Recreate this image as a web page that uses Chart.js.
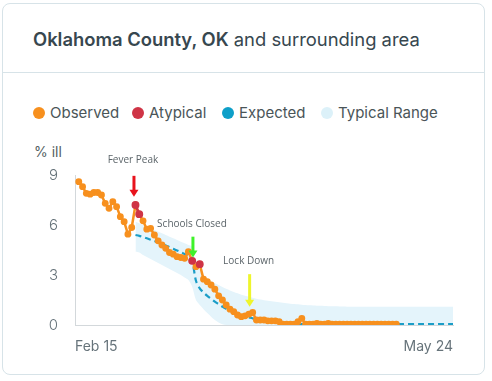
<!DOCTYPE html>
<html><head><meta charset="utf-8">
<script src="https://cdn.jsdelivr.net/npm/chart.js@4/dist/chart.umd.min.js"></script>
<style>
html,body{margin:0;padding:0;background:#fff;width:492px;height:381px;overflow:hidden;font-family:Inter,"Open Sans",sans-serif;}
.card{position:absolute;left:2px;top:3px;width:483px;height:372px;border:1px solid #d7e3e8;border-radius:8px;box-sizing:border-box;}
.sep{position:absolute;left:3px;top:72px;width:482px;height:1px;background:#d7e3e8;}
.title{position:absolute;left:33px;top:28px;font-size:18.4px;color:#37474f;white-space:nowrap;letter-spacing:0px;}
.title b{font-weight:600;}
.legend{position:absolute;top:103px;left:33px;font-size:15px;color:#4a5558;white-space:nowrap;}
.legend span.item{position:absolute;top:0;white-space:nowrap;}
.legend i{display:inline-block;width:12px;height:12px;border-radius:50%;vertical-align:-1px;margin-right:5px;}
.ylab{position:absolute;left:34px;top:143px;font-size:14px;color:#555f63;}
canvas{position:absolute;left:0;top:130px;}
</style></head>
<body>
<div class="card"></div>
<div class="sep"></div>
<div class="title"><b>Oklahoma County, OK</b> and surrounding area</div>
<div class="legend">
  <span class="item" style="left:0px"><i style="background:#f7901e"></i>Observed</span>
  <span class="item" style="left:99px"><i style="background:#cf3446"></i>Atypical</span>
  <span class="item" style="left:189px"><i style="background:#0e9fc8"></i>Expected</span>
  <span class="item" style="left:288px"><i style="background:#dcf1f9"></i>Typical Range</span>
</div>
<div class="ylab">% ill</div>
<canvas id="c" width="492" height="240"></canvas>
<script>
// Day index 0 = Feb 15, 99 = May 24
const xTickLabels = ['Feb 15', 'May 24'];
const xTickDays = [-1, 99];
const yTicks = [0, 3, 6, 9];

const observed = [
  8.6, 8.3, 7.9, 7.85, 7.95, 7.95, 7.8, 7.3, 7.0, 7.4,
  7.1, 6.5, 6.2, 5.45, 5.85, 7.2, 6.65, 6.25, 5.75, 5.8,
  5.4, 5.05, 4.8, 4.6, 4.35, 4.25, 4.1, 4.05, 4.0, 4.4,
  3.85, 3.5, 3.65, 2.75, 2.6, 2.4, 2.15, 1.75, 1.5, 1.2,
  0.95, 0.8, 0.6, 0.5, 0.55, 0.65, 0.75, 0.3, 0.3, 0.3,
  0.25, 0.25, 0.25, 0.2, 0.05, 0.05, 0.05, 0.05, 0.2, 0.4,
  0.05, 0.05, 0.05, 0.1, 0.05, 0.05, 0.1, 0.05, 0.05, 0.05,
  0.05, 0.05, 0.05, 0.05, 0.05, 0.05, 0.05, 0.05, 0.05, 0.05,
  0.05, 0.05, 0.05, 0.05, 0.05
];
const atypicalDays = [15, 16, 30, 32];

const expectedStart = 15;
const expected = [
  5.4, 5.35, 5.28, 5.2, 5.12, 5.04, 4.96, 4.87, 4.77, 4.67,
  4.57, 4.47, 4.37, 4.26, 4.14, 3.85, 2.65, 2.2, 1.95, 1.75,
  1.58, 1.4, 1.25, 1.1, 0.97, 0.86, 0.76, 0.66, 0.57, 0.5,
  0.45, 0.4, 0.36, 0.33, 0.3, 0.28, 0.27, 0.26, 0.25, 0.15,
  0.07, 0.05, 0.05, 0.05, 0.05, 0.05, 0.05, 0.05, 0.05, 0.05,
  0.05, 0.05, 0.05, 0.05, 0.05, 0.05, 0.05, 0.05, 0.05, 0.05,
  0.05, 0.05, 0.05, 0.05, 0.05, 0.05, 0.05, 0.05, 0.05, 0.05,
  0.05, 0.05, 0.05, 0.05, 0.05, 0.05, 0.05, 0.05, 0.05, 0.05,
  0.05, 0.05, 0.05, 0.05, 0.05
];
const rangeUpper = [
  6.2, 6.1, 6.0, 5.9, 5.8, 5.7, 5.6, 5.5, 5.4, 5.3,
  5.2, 5.1, 5.0, 4.9, 4.8, 4.7, 3.6, 3.3, 3.0, 2.8,
  2.65, 2.5, 2.4, 2.28, 2.17, 2.07, 1.98, 1.9, 1.82, 1.75,
  1.69, 1.63, 1.58, 1.53, 1.49, 1.45, 1.42, 1.39, 1.36, 1.33,
  1.3, 1.28, 1.26, 1.24, 1.22, 1.2, 1.18, 1.17, 1.16, 1.15,
  1.14, 1.13, 1.12, 1.12, 1.11, 1.11, 1.1, 1.1, 1.1, 1.1,
  1.1, 1.1, 1.1, 1.1, 1.1, 1.1, 1.1, 1.1, 1.1, 1.1,
  1.1, 1.1, 1.1, 1.1, 1.1, 1.1, 1.1, 1.1, 1.1, 1.1,
  1.1, 1.1, 1.1, 1.1, 1.1
];
const rangeLower = [
  4.4, 4.35, 4.2, 4.08, 3.96, 3.84, 3.72, 3.6, 3.48, 3.36,
  3.24, 3.12, 3.0, 2.85, 2.7, 2.3, 1.5, 1.2, 0.95, 0.72,
  0.5, 0.3, 0.15, 0.05, 0, 0, 0, 0, 0, 0,
  0, 0, 0, 0, 0, 0, 0, 0, 0, 0,
  0, 0, 0, 0, 0, 0, 0, 0, 0, 0,
  0, 0, 0, 0, 0, 0, 0, 0, 0, 0,
  0, 0, 0, 0, 0, 0, 0, 0, 0, 0,
  0, 0, 0, 0, 0, 0, 0, 0, 0, 0,
  0, 0, 0, 0, 0
];

// annotations: label, arrow day, arrow top value, arrow bottom value, label value, colour
const annotationLabels = ['Fever Peak', 'Schools Closed', 'Lock Down'];
const annotationDays = [14.6, 30.2, 45.2];
const annotationArrowTop = [8.95, 5.3, 3.05];
const annotationArrowBottom = [7.7, 4.05, 1.1];
const annotationTextValue = [9.9, 6.05, 3.85];
const annotationColors = ['#e8121c', '#3ff22a', '#eef52c'];

const toXY = (arr, start) => arr.map((v, i) => ({x: i + start, y: v}));
const atypicalData = observed.map((v, i) => ({x: i, y: atypicalDays.includes(i) ? v : null}));

const annotationPlugin = {
  id: 'annots',
  afterDatasetsDraw(chart) {
    const ctx = chart.ctx, xs = chart.scales.x, ys = chart.scales.y;
    ctx.save();
    annotationLabels.forEach((lab, k) => {
      const x = xs.getPixelForValue(annotationDays[k]);
      const y1 = ys.getPixelForValue(annotationArrowTop[k]);
      const y2 = ys.getPixelForValue(annotationArrowBottom[k]);
      ctx.strokeStyle = annotationColors[k];
      ctx.fillStyle = annotationColors[k];
      ctx.lineWidth = 3;
      ctx.beginPath();
      ctx.moveTo(x, y1);
      ctx.lineTo(x, y2 - 6);
      ctx.stroke();
      ctx.beginPath();
      ctx.moveTo(x - 4.5, y2 - 7);
      ctx.lineTo(x + 4.5, y2 - 7);
      ctx.lineTo(x, y2);
      ctx.closePath();
      ctx.fill();
      ctx.fillStyle = '#5b6469';
      ctx.font = '10px "Open Sans"';
      ctx.textAlign = 'center';
      ctx.textBaseline = 'middle';
      ctx.fillText(lab, xs.getPixelForValue(annotationDays[k]) - 1, ys.getPixelForValue(annotationTextValue[k]));
    });
    ctx.restore();
  }
};

new Chart(document.getElementById('c'), {
  type: 'line',
  data: {
    datasets: [
      {label: 'Atypical', data: atypicalData, borderColor: '#cf3446', backgroundColor: '#cf3446',
       borderWidth: 2.5, pointRadius: 2.7, pointHoverRadius: 2.7, spanGaps: false, order: 0},
      {label: 'Observed', data: toXY(observed, 0), borderColor: '#f7901e', backgroundColor: '#f7901e',
       borderWidth: 2.5, pointRadius: 2.2, pointHoverRadius: 2.2, tension: 0, order: 1},
      {label: 'Expected', data: toXY(expected, expectedStart), borderColor: '#1a9dc7',
       borderWidth: 2.2, borderDash: [6, 4], pointRadius: 0, tension: 0.3, order: 2},
      {label: 'Upper', data: toXY(rangeUpper, expectedStart), borderWidth: 0, borderColor: 'rgba(0,0,0,0)',
       pointRadius: 0, tension: 0.3, fill: '+1', backgroundColor: '#e4f4fb', order: 3},
      {label: 'Lower', data: toXY(rangeLower, expectedStart), borderWidth: 0, borderColor: 'rgba(0,0,0,0)',
       pointRadius: 0, tension: 0.3, fill: false, order: 4}
    ]
  },
  options: {
    responsive: false,
    animation: false,
    events: [],
    layout: {padding: {left: 0, right: 39, top: 45, bottom: 15}},
    plugins: {legend: {display: false}, tooltip: {enabled: false}},
    scales: {
      x: {
        type: 'linear', min: -1, max: 99,
        afterFit: s => { s.height = 30; },
        afterBuildTicks: s => { s.ticks = xTickDays.map(v => ({value: v})); },
        grid: {display: false, drawTicks: false},
        border: {display: true, color: '#d3d8db', width: 1},
        ticks: {align: 'inner', padding: 13, color: '#66737a', font: {family: 'Inter', size: 14},
                callback: (v, i) => xTickLabels[i], maxRotation: 0, autoSkip: false}
      },
      y: {
        min: 0, max: 9,
        afterFit: s => { s.width = 75; },
        afterBuildTicks: s => { s.ticks = yTicks.map(v => ({value: v})); },
        grid: {display: false, drawTicks: false},
        border: {display: true, color: '#d3d8db', width: 1},
        ticks: {padding: 17, color: '#66737a', font: {family: 'Inter', size: 15, weight: 300}}
      }
    }
  },
  plugins: [annotationPlugin]
});
</script>
</body></html>
